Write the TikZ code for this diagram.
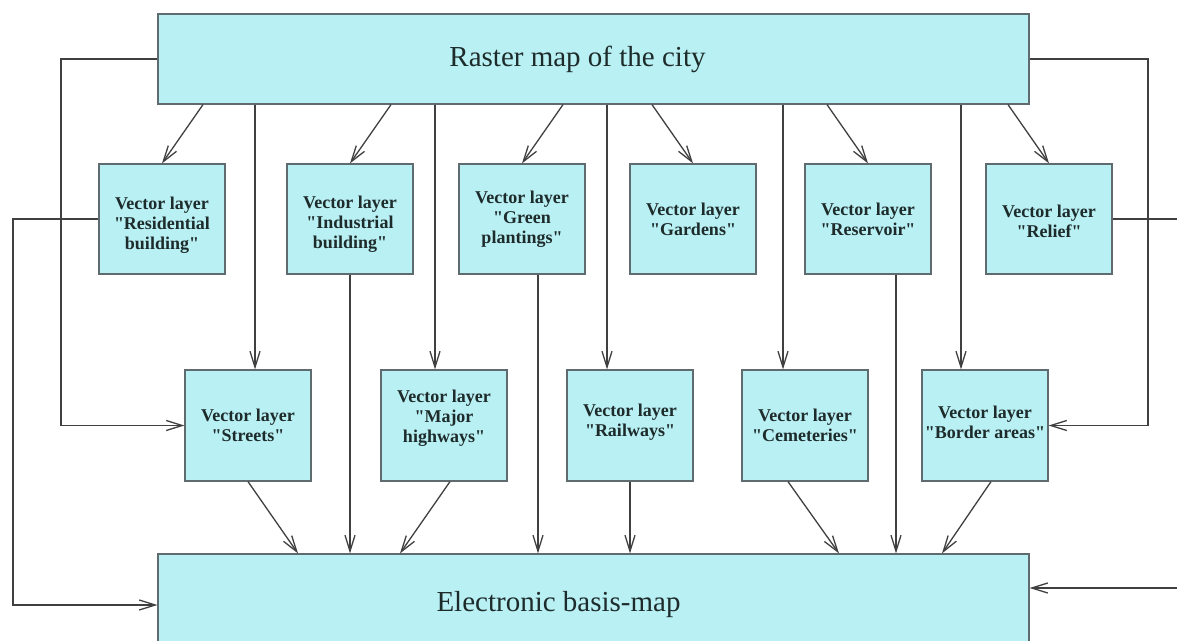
\documentclass[tikz,border=0pt]{standalone}
\usepackage{fontspec}
\setmainfont{Liberation Serif}
\newfontfamily\boxfont{Liberation Serif}
\usetikzlibrary{arrows.meta}
\definecolor{boxfill}{HTML}{B9F0F4}
\definecolor{boxline}{HTML}{5F6B6E}
\definecolor{conn}{HTML}{404040}
\definecolor{txt}{HTML}{1E2B2B}
\newcommand\dnstrut[1]{\rule{0pt}{#1}}
\newcommand\upstrut[1]{\rule[-#1]{0pt}{#1}}
\tikzset{
  layer/.style={draw=boxline, fill=boxfill, line width=1.2pt, minimum width=126pt, minimum height=110pt,
    inner sep=1pt, align=center, text=txt, font=\boxfont\bfseries\fontsize{18}{20}\selectfont},
  mapbox/.style={draw=boxline, fill=boxfill, line width=1.2pt, minimum width=871pt,
    inner sep=0pt, text=txt, font=\fontsize{29}{34}\selectfont},
  conline/.style={draw=conn, line width=1.3pt},
  arr/.style={conline, -{Straight Barb[length=16pt,width=10pt,line width=1.3pt]}}
}
\begin{document}
\begin{tikzpicture}[x=1pt,y=-1pt]
\clip (0,0) rectangle (1177,640);
\fill[white] (0,0) rectangle (1177,640);
% big boxes
\node[mapbox, minimum height=90pt] (top) at (593.5,59) {Raster map of the city\hspace*{32pt}};
\node[mapbox, minimum height=102pt] (bot) at (593.5,605) {Electronic basis-map\hspace*{70pt}};
% row 1
\node[layer] (res) at (162,219) {\dnstrut{24pt}Vector layer\\"Residential\\building"};
\node[layer] (ind) at (350,219) {\dnstrut{22pt}Vector layer\\"Industrial\\building"};
\node[layer] (green) at (522,219) {Vector layer\\"Green\\plantings"};
\node[layer] (gard) at (693,219) {Vector layer\\"Gardens"};
\node[layer] (resv) at (868,219) {Vector layer\\"Reservoir"};
\node[layer] (relief) at (1049,219) {\dnstrut{18pt}Vector layer\\"Relief"};
% row 2
\node[layer, minimum height=111pt] (str) at (248,425.5) {Vector layer\\"Streets"};
\node[layer, minimum height=111pt] (hwy) at (444,425.5) {Vector layer\\"Major\\highways"\upstrut{18pt}};
\node[layer, minimum height=111pt] (rail) at (630,425.5) {Vector layer\\"Railways"\upstrut{10pt}};
\node[layer, minimum height=111pt] (cem) at (805,425.5) {Vector layer\\"Cemeteries"};
\node[layer, minimum height=111pt] (bord) at (985,425.5) {Vector layer\\"Border areas"\upstrut{6pt}};
% helper coordinates
\coordinate (xL1) at (61,0);
\coordinate (xL2) at (13,0);
\coordinate (xR1) at (1148,0);
\coordinate (xR2) at (1200,0);
\coordinate (yR2) at (0,588);
% top to row 1
\draw[arr] (top.south -| 203,0) -- (res.north);
\draw[arr] (top.south -| 391,0) -- (ind.north);
\draw[arr] (top.south -| 563,0) -- (green.north);
\draw[arr] (top.south -| 652,0) -- (gard.north);
\draw[arr] (top.south -| 827,0) -- (resv.north);
\draw[arr] (top.south -| 1008,0) -- (relief.north);
% top to row 2
\draw[arr] (top.south -| 255,0) -- (str.north -| 255,0);
\draw[arr] (top.south -| 435,0) -- (hwy.north -| 435,0);
\draw[arr] (top.south -| 607,0) -- (rail.north -| 607,0);
\draw[arr] (top.south -| 783,0) -- (cem.north -| 783,0);
\draw[arr] (top.south -| 961,0) -- (bord.north -| 961,0);
% to bottom
\draw[arr] (ind.south) -- (bot.north -| ind.south);
\draw[arr] (str.south) -- (bot.north -| 298,0);
\draw[arr] (hwy.south -| 450,0) -- (bot.north -| 400,0);
\draw[arr] (green.south -| 538,0) -- (bot.north -| 538,0);
\draw[arr] (rail.south) -- (bot.north -| rail.south);
\draw[arr] (cem.south -| 788,0) -- (bot.north -| 839,0);
\draw[arr] (resv.south -| 896,0) -- (bot.north -| 896,0);
\draw[arr] (bord.south -| 991,0) -- (bot.north -| 942,0);
% side loops
\draw[arr] (top.west) -- (top.west -| xL1) -- (str.west -| xL1) -- (str.west);
\draw[arr] (res.west) -- (res.west -| xL2) -- (bot.west -| xL2) -- (bot.west);
\draw[arr] (top.east) -- (top.east -| xR1) -- (bord.east -| xR1) -- (bord.east);
\draw[arr] (relief.east) -- (relief.east -| xR2) -- (xR2 |- yR2) -- (bot.east |- yR2);
\end{tikzpicture}
\end{document}
